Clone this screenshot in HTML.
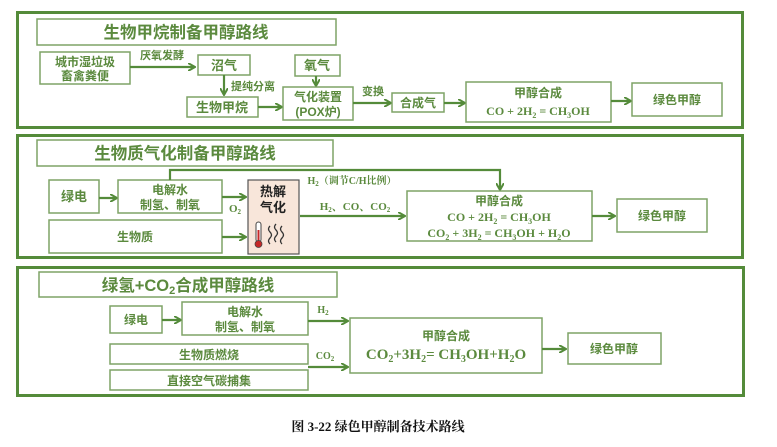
<!DOCTYPE html>
<html><head><meta charset="utf-8"><style>
html,body{margin:0;padding:0;background:#fff;width:777px;height:447px;overflow:hidden}
svg{display:block}
.o{fill:none;stroke:#548b3a;stroke-width:3}
.b{fill:#fff;stroke:#7ea367;stroke-width:1.5}
.t{font-family:"Liberation Sans","Noto Sans CJK SC",sans-serif;font-weight:bold;fill:#5b8a3e;text-anchor:middle}
.s{font-family:"Liberation Serif","Noto Serif CJK SC",serif;font-weight:bold;fill:#5b8a3e;text-anchor:middle}
.l{stroke:#548b3a;stroke-width:2.2;fill:none}
</style></head><body>
<svg width="777" height="447" viewBox="0 0 777 447" xmlns="http://www.w3.org/2000/svg">
<defs><marker id="a" markerWidth="8" markerHeight="8" refX="7" refY="4" orient="auto" markerUnits="userSpaceOnUse"><path d="M0,0 L7,4 L0,8" fill="none" stroke="#548b3a" stroke-width="2"/></marker></defs>

<!-- Section 1 -->
<rect class="o" x="17.5" y="12.5" width="725" height="115"/>
<rect class="b" x="37" y="19" width="299" height="26"/>
<text class="t" x="186" y="38" font-size="16.5">生物甲烷制备甲醇路线</text>
<rect class="b" x="40" y="52" width="90" height="32"/>
<text class="t" x="85" y="66" font-size="12">城市湿垃圾</text>
<text class="t" x="85" y="80" font-size="12">畜禽粪便</text>
<text class="t" x="162" y="59" font-size="11">厌氧发酵</text>
<line class="l" x1="130" y1="67" x2="195" y2="67" marker-end="url(#a)"/>
<rect class="b" x="198" y="55" width="52" height="20"/>
<text class="t" x="224" y="70" font-size="13">沼气</text>
<line class="l" x1="224" y1="75" x2="224" y2="95" marker-end="url(#a)"/>
<text class="t" x="253" y="90" font-size="11">提纯分离</text>
<rect class="b" x="187" y="97" width="71" height="20"/>
<text class="t" x="222" y="112" font-size="13">生物甲烷</text>
<line class="l" x1="258" y1="107" x2="282" y2="107" marker-end="url(#a)"/>
<rect class="b" x="295" y="55" width="45" height="21"/>
<text class="t" x="317" y="70" font-size="13">氧气</text>
<line class="l" x1="316" y1="76" x2="316" y2="86" marker-end="url(#a)"/>
<rect class="b" x="283" y="87" width="70" height="33"/>
<text class="t" x="318" y="101" font-size="12">气化装置</text>
<text class="t" x="318" y="116" font-size="12">(POX炉)</text>
<text class="t" x="373" y="95" font-size="11">变换</text>
<line class="l" x1="353" y1="103" x2="391" y2="103" marker-end="url(#a)"/>
<rect class="b" x="392" y="93" width="52" height="19"/>
<text class="t" x="418" y="107" font-size="12">合成气</text>
<line class="l" x1="444" y1="103" x2="465" y2="103" marker-end="url(#a)"/>
<rect class="b" x="466" y="82" width="145" height="40"/>
<text class="t" x="538" y="97" font-size="12">甲醇合成</text>
<text class="s" x="538" y="115" font-size="12">CO + 2H<tspan font-size="8" dy="3">2</tspan><tspan dy="-3"> = CH</tspan><tspan font-size="8" dy="3">3</tspan><tspan dy="-3">OH</tspan></text>
<line class="l" x1="611" y1="101" x2="631" y2="101" marker-end="url(#a)"/>
<rect class="b" x="632" y="83" width="90" height="33"/>
<text class="t" x="677" y="104" font-size="12">绿色甲醇</text>

<!-- Section 2 -->
<rect class="o" x="17.5" y="135.5" width="725" height="122"/>
<rect class="b" x="37" y="140" width="296" height="26"/>
<text class="t" x="185" y="159" font-size="16.5">生物质气化制备甲醇路线</text>
<rect class="b" x="49" y="180" width="50" height="33"/>
<text class="t" x="74" y="201" font-size="13">绿电</text>
<line class="l" x1="99" y1="198" x2="117" y2="198" marker-end="url(#a)"/>
<rect class="b" x="118" y="180" width="104" height="33"/>
<text class="t" x="170" y="194" font-size="12">电解水</text>
<text class="t" x="170" y="209" font-size="12">制氢、制氧</text>
<polyline class="l" points="170,180 170,170 500,170 500,190" marker-end="url(#a)"/>
<text class="s" x="352" y="184" font-size="10">H<tspan font-size="7" dy="2">2</tspan><tspan dy="-2">（调节C/H比例）</tspan></text>
<line class="l" x1="222" y1="197" x2="246" y2="197" marker-end="url(#a)"/>
<text class="s" x="235" y="212" font-size="11">O<tspan font-size="7" dy="2">2</tspan></text>
<rect class="b" x="49" y="220" width="173" height="33"/>
<text class="t" x="135" y="241" font-size="12">生物质</text>
<line class="l" x1="222" y1="237" x2="246" y2="237" marker-end="url(#a)"/>
<rect x="248" y="180" width="51" height="74" fill="#f8e6da" stroke="#555" stroke-width="1.2"/>
<text x="273" y="196" font-size="13" font-weight="bold" text-anchor="middle" font-family="Liberation Sans,Noto Sans CJK SC,sans-serif" fill="#222">热解</text>
<text x="273" y="212" font-size="13" font-weight="bold" text-anchor="middle" font-family="Liberation Sans,Noto Sans CJK SC,sans-serif" fill="#222">气化</text>
<rect x="256" y="222" width="5" height="20" rx="2.5" fill="#fff" stroke="#444" stroke-width="1"/>
<line x1="258.5" y1="230" x2="258.5" y2="242" stroke="#c62828" stroke-width="2"/>
<circle cx="258.5" cy="244" r="3.5" fill="#c62828" stroke="#444" stroke-width="0.8"/>
<path d="M270,226 q-3,3 0,6 q3,3 0,6 q-3,3 0,6 M276,224 q-3,3 0,6 q3,3 0,6 q-3,3 0,6 M282,226 q-3,3 0,6 q3,3 0,6 q-3,3 0,6" fill="none" stroke="#333" stroke-width="1.3"/>
<text class="s" x="355" y="210" font-size="11">H<tspan font-size="7" dy="2">2</tspan><tspan dy="-2">、CO、CO</tspan><tspan font-size="7" dy="2">2</tspan></text>
<line class="l" x1="300" y1="216" x2="405" y2="216" marker-end="url(#a)"/>
<rect class="b" x="407" y="191" width="185" height="50"/>
<text class="t" x="499" y="205" font-size="12">甲醇合成</text>
<text class="s" x="499" y="221" font-size="12">CO + 2H<tspan font-size="8" dy="3">2</tspan><tspan dy="-3"> = CH</tspan><tspan font-size="8" dy="3">3</tspan><tspan dy="-3">OH</tspan></text>
<text class="s" x="499" y="237" font-size="12">CO<tspan font-size="8" dy="3">2</tspan><tspan dy="-3"> + 3H</tspan><tspan font-size="8" dy="3">2</tspan><tspan dy="-3"> = CH</tspan><tspan font-size="8" dy="3">3</tspan><tspan dy="-3">OH + H</tspan><tspan font-size="8" dy="3">2</tspan><tspan dy="-3">O</tspan></text>
<line class="l" x1="592" y1="216" x2="615" y2="216" marker-end="url(#a)"/>
<rect class="b" x="617" y="199" width="90" height="33"/>
<text class="t" x="662" y="220" font-size="12">绿色甲醇</text>

<!-- Section 3 -->
<rect class="o" x="17.5" y="267.5" width="726" height="128"/>
<rect class="b" x="39" y="272" width="298" height="25"/>
<text class="t" x="188" y="291" font-size="16.5">绿氢+CO<tspan font-size="11" dy="3">2</tspan><tspan dy="-3">合成甲醇路线</tspan></text>
<rect class="b" x="110" y="306" width="52" height="27"/>
<text class="t" x="136" y="324" font-size="12">绿电</text>
<line class="l" x1="162" y1="320" x2="181" y2="320" marker-end="url(#a)"/>
<rect class="b" x="182" y="302" width="126" height="33"/>
<text class="t" x="245" y="316" font-size="12">电解水</text>
<text class="t" x="245" y="331" font-size="12">制氢、制氧</text>
<text class="s" x="323" y="313" font-size="10">H<tspan font-size="7" dy="2">2</tspan></text>
<line class="l" x1="308" y1="321" x2="348" y2="321" marker-end="url(#a)"/>
<rect class="b" x="110" y="344" width="198" height="20"/>
<text class="t" x="209" y="359" font-size="12">生物质燃烧</text>
<rect class="b" x="110" y="370" width="198" height="20"/>
<text class="t" x="209" y="385" font-size="12">直接空气碳捕集</text>
<text class="s" x="325" y="359" font-size="10">CO<tspan font-size="7" dy="2">2</tspan></text>
<line class="l" x1="308" y1="367" x2="348" y2="367" marker-end="url(#a)"/>
<rect class="b" x="350" y="318" width="192" height="55"/>
<text class="t" x="446" y="340" font-size="12">甲醇合成</text>
<text class="s" x="446" y="359" font-size="15">CO<tspan font-size="10" dy="3">2</tspan><tspan dy="-3">+3H</tspan><tspan font-size="10" dy="3">2</tspan><tspan dy="-3">= CH</tspan><tspan font-size="10" dy="3">3</tspan><tspan dy="-3">OH+H</tspan><tspan font-size="10" dy="3">2</tspan><tspan dy="-3">O</tspan></text>
<line class="l" x1="542" y1="349" x2="566" y2="349" marker-end="url(#a)"/>
<rect class="b" x="568" y="333" width="93" height="31"/>
<text class="t" x="614" y="353" font-size="12">绿色甲醇</text>

<text x="378" y="431" font-size="13" font-weight="bold" text-anchor="middle" font-family="Liberation Serif,Noto Serif CJK SC,serif" fill="#111">图 3-22 绿色甲醇制备技术路线</text>
</svg>
</body></html>
